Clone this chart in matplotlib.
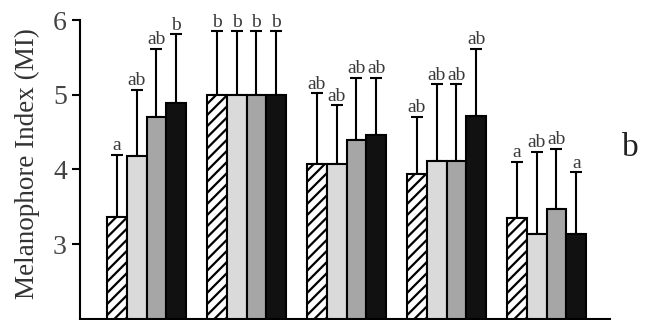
import numpy as np
import matplotlib.pyplot as plt

plt.rcParams['font.family'] = ['Liberation Serif', 'DejaVu Serif']
plt.rcParams['hatch.linewidth'] = 1.6

# mean values per group (5 groups x 4 treatments)
hatched = [3.36, 5.00, 4.07, 3.94, 3.35]
light = [4.18, 5.00, 4.07, 4.11, 3.14]
gray = [4.70, 5.00, 4.39, 4.11, 3.47]
black = [4.89, 5.00, 4.46, 4.72, 3.14]

# upper error bar tops
hatched_err = [4.20, 5.85, 5.02, 4.70, 4.10]
light_err = [5.07, 5.85, 4.86, 5.14, 4.24]
gray_err = [5.62, 5.85, 5.23, 5.14, 4.28]
black_err = [5.81, 5.85, 5.23, 5.62, 3.96]

# significance letters
hatched_lbl = ['a', 'b', 'ab', 'ab', 'a']
light_lbl = ['ab', 'b', 'ab', 'ab', 'ab']
gray_lbl = ['ab', 'b', 'ab', 'ab', 'ab']
black_lbl = ['b', 'b', 'ab', 'ab', 'a']

series = [
    (hatched, hatched_err, hatched_lbl, 'white', '///'),
    (light, light_err, light_lbl, '#dadada', None),
    (gray, gray_err, gray_lbl, '#a6a6a6', None),
    (black, black_err, black_lbl, '#111111', None),
]

fig = plt.figure(figsize=(6.47, 3.2), dpi=100)
ax = fig.add_axes([80 / 647, 0.004, 530 / 647, 0.933])

x = np.arange(len(hatched))
width = 0.198
offsets = [-1.5, -0.5, 0.5, 1.5]

for (vals, tops, lbls, color, hatch), off in zip(series, offsets):
    pos = x + off * width
    ax.bar(pos, vals, width, bottom=0, color=color, edgecolor='black',
           linewidth=1.5, hatch=hatch, zorder=2)
    err = np.array(tops) - np.array(vals)
    ax.errorbar(pos, vals, yerr=[np.zeros_like(err), err], fmt='none',
                ecolor='black', elinewidth=1.5, capsize=4.3, capthick=1.5,
                zorder=1)
    for px, t, lab in zip(pos, tops, lbls):
        ax.text(px, t + 0.01, lab, ha='center', va='bottom', fontsize=14,
                color='#3a3a3a')

ax.set_xlim(-0.665, 4.635)
ax.set_ylim(2, 6)
ax.set_yticks([3, 4, 5, 6])
ax.set_xticks([])
ax.tick_params(axis='y', labelsize=20, width=1.5, length=6, direction='out',
               labelcolor='#444444')
for s in ['top', 'right']:
    ax.spines[s].set_visible(False)
ax.spines['left'].set_linewidth(1.5)
ax.spines['bottom'].set_linewidth(1.5)
ax.set_ylabel('Melanophore Index (MI)', fontsize=19.5, color='#333333')
ax.yaxis.set_label_coords(-0.075, 0.52)

fig.text(630 / 647, 1 - 148 / 320, 'b', fontsize=24, ha='center', va='center',
         color='#222222')

fig.savefig('out.png', dpi=100)
